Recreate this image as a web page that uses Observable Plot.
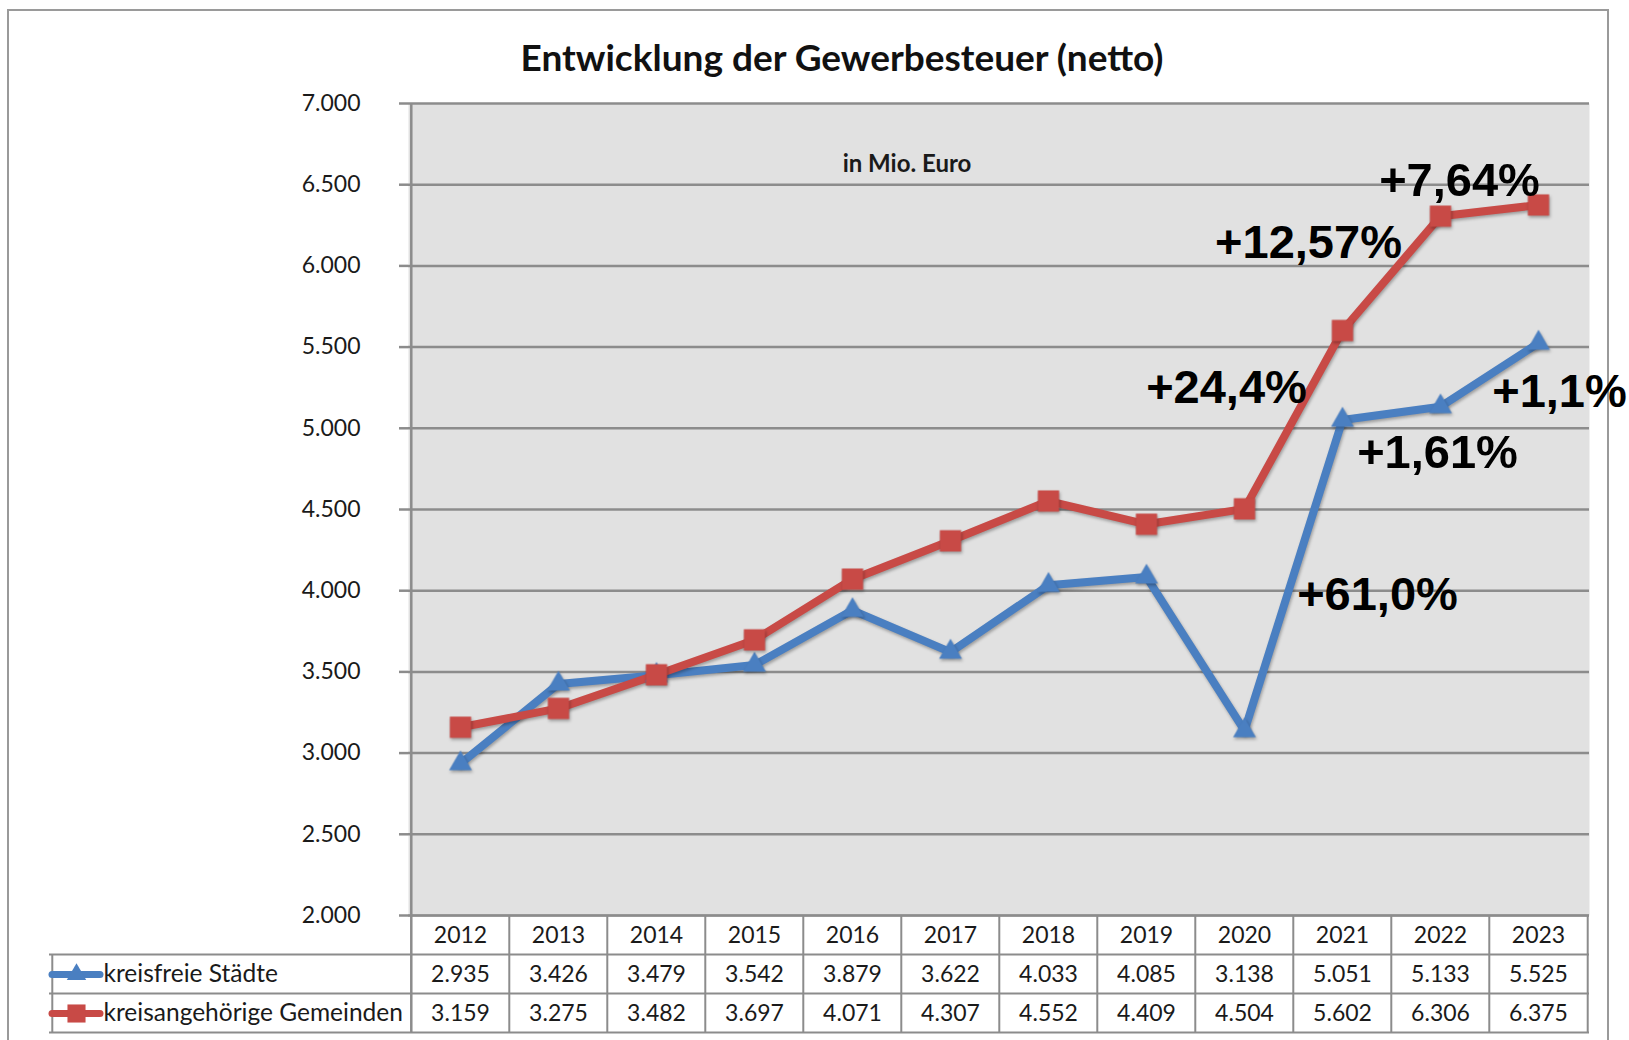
<!DOCTYPE html>
<html>
<head>
<meta charset="utf-8">
<script src="https://cdn.jsdelivr.net/npm/d3@7"></script>
<script src="https://cdn.jsdelivr.net/npm/@observablehq/plot@0.6"></script>
<style>
  html, body { margin: 0; padding: 0; background: #fff; }
  #wrap { position: relative; width: 1629px; height: 1040px; overflow: hidden; background: #fff; }
  #frame { position: absolute; left: 7px; top: 9px; width: 1598px; height: 1100px; border: 2px solid #9a9a9a; box-sizing: content-box; }
  #title { position: absolute; left: 0; width: 1684px; top: 34px; text-align: center; font: bold 37px Lato, sans-serif; color: #111; line-height: 46px; }
  #chart { position: absolute; left: 0; top: 0; }
</style>
</head>
<body>
<div id="wrap">
  <div id="frame"></div>
  <div id="title">Entwicklung der Gewerbesteuer (netto)</div>
  <div id="chart"></div>
</div>
<script>
// ---- data ----
const years = ["2012","2013","2014","2015","2016","2017","2018","2019","2020","2021","2022","2023"];
const kreisfreie = [2935, 3426, 3479, 3542, 3879, 3622, 4033, 4085, 3138, 5051, 5133, 5525];
const kreisangehoerige = [3159, 3275, 3482, 3697, 4071, 4307, 4552, 4409, 4504, 5602, 6306, 6375];
const seriesNames = ["kreisfreie Städte", "kreisangehörige Gemeinden"];
const yTicks = [2000, 2500, 3000, 3500, 4000, 4500, 5000, 5500, 6000, 6500, 7000];
const yTickLabels = ["2.000","2.500","3.000","3.500","4.000","4.500","5.000","5.500","6.000","6.500","7.000"];
const unitLabel = "in Mio. Euro";
const annoLabels = ["+7,64%", "+12,57%", "+24,4%", "+1,1%", "+1,61%", "+61,0%"];
const annoYears = ["2023", "2022", "2021", "2023", "2022", "2021"];
const annoSeries = [1, 1, 1, 0, 0, 0];

// ---- layout / style ----
const W = 1629, H = 1040;
const mTop = 103, mBottom = 125, mLeft = 408, mRight = 40;
const plotW = W - mLeft - mRight, plotH = H - mTop - mBottom;
const step = plotW / years.length;
const rowH = 39;
const blue = "#4a7fc1", red = "#c84a46";
const colors = [blue, red];
const grid = "#8c8c8c";
const annoOffsets = [[-79, -24], [-132, 27], [-116, 57], [21, 49], [-3, 46], [35, 175]];
const shadow = "drop-shadow(1.5px 2.5px 1.5px rgba(0,0,0,0.3))";
const swatchX1 = 52, swatchX2 = 100, swatchDotX = 76, legendTextX = 103, tableLeft = 49;

const fmt = d3.formatLocale({decimal: ",", thousands: ".", grouping: [3], currency: ["", " €"]}).format(",d");
const seriesValues = [kreisfreie, kreisangehoerige];
const rows = seriesValues.map((vals, s) => years.map((y, i) => ({year: y, value: vals[i], series: seriesNames[s]})));
const labelMap = new Map(yTicks.map((t, i) => [t, yTickLabels[i]]));

const annoMarks = annoLabels.map((lab, i) => {
  const s = annoSeries[i];
  const idx = years.indexOf(annoYears[i]);
  return Plot.text([{year: annoYears[i], value: seriesValues[s][idx], label: lab}], {
    x: "year", y: "value", text: "label",
    dx: annoOffsets[i][0], dy: annoOffsets[i][1],
    fontFamily: "Liberation Sans, Arial, sans-serif", fontWeight: "bold", fontSize: 47,
    fill: "#000", textAnchor: "middle", lineAnchor: "middle"
  });
});

const symbols = ["triangle", "square"];
const radii = [8.5, 12];

const chart = Plot.plot({
  width: W, height: H,
  marginTop: mTop, marginBottom: mBottom, marginLeft: mLeft, marginRight: mRight,
  style: {fontFamily: "Lato, sans-serif", fontSize: "23px", color: "#1a1a1a", background: "transparent", overflow: "visible"},
  x: {type: "band", domain: years, padding: 0, axis: null},
  y: {domain: [2000, 7000], axis: null},
  marks: [
    Plot.frame({fill: "#e1e1e1", stroke: null}),
    Plot.gridY(yTicks, {stroke: grid, strokeOpacity: 1, strokeWidth: 2.5}),
    Plot.axisY({ticks: yTicks, tickFormat: d => labelMap.get(d), tickSize: 9, tickPadding: 39, stroke: grid, strokeWidth: 2.5, fontSize: 23, fill: "#1a1a1a", label: null}),
    Plot.text([unitLabel], {frameAnchor: "top", lineAnchor: "middle", dx: -92, dy: 61, fontWeight: "bold", fontSize: 24, fill: "#1a1a1a"}),
    // series lines and markers
    ...rows.map((r, s) => Plot.line(r, {x: "year", y: "value", stroke: colors[s], strokeWidth: 8, strokeLinejoin: "round", imageFilter: shadow})),
    ...rows.map((r, s) => Plot.dot(r, {x: "year", y: "value", symbol: symbols[s], r: radii[s], fill: colors[s], stroke: null, imageFilter: shadow})),
    ...annoMarks,
    // data table borders
    Plot.ruleX([years[0]], {x: d => d, dx: -step / 2, stroke: grid, strokeWidth: 2.5, insetBottom: -3 * rowH}),
    Plot.ruleX(years.slice(1), {x: d => d, dx: -step / 2, stroke: grid, strokeWidth: 2, insetTop: plotH, insetBottom: -3 * rowH}),
    Plot.ruleX([years[years.length - 1]], {x: d => d, dx: step / 2, stroke: grid, strokeWidth: 2, insetTop: plotH, insetBottom: -3 * rowH}),
    Plot.ruleX([years[0]], {x: d => d, dx: -step / 2 - (mLeft - tableLeft), stroke: grid, strokeWidth: 2, insetTop: plotH + rowH, insetBottom: -3 * rowH}),
    Plot.ruleY([2000], {stroke: grid, strokeWidth: 2}),
    ...[1, 2, 3].map(k => Plot.ruleY([2000], {dy: k * rowH, insetLeft: -(mLeft - tableLeft), stroke: grid, strokeWidth: 2})),
    // header (years)
    Plot.text(years, {x: d => d, frameAnchor: "bottom", dy: 20, fontSize: 23, fill: "#1a1a1a", lineAnchor: "middle"}),
    // values
    ...rows.map((r, s) => Plot.text(r, {x: "year", text: d => fmt(d.value), frameAnchor: "bottom", dy: 20 + (s + 1) * rowH, fontSize: 23, fill: "#1a1a1a", lineAnchor: "middle"})),
    // legend swatches + labels
    ...[0, 1].map(s => Plot.ruleY([2000], {dy: 20 + (s + 1) * rowH, insetLeft: -(mLeft - swatchX1), insetRight: mLeft + plotW - swatchX2, stroke: colors[s], strokeWidth: 7, strokeLinecap: "round"})),
    ...[0, 1].map(s => Plot.dot([seriesNames[s]], {frameAnchor: "bottom-left", dx: swatchDotX - mLeft, dy: 20 + (s + 1) * rowH, symbol: symbols[s], r: radii[s] * 0.85, fill: colors[s], stroke: null})),
    ...[0, 1].map(s => Plot.text([seriesNames[s]], {frameAnchor: "bottom-left", dx: legendTextX - mLeft, dy: 20 + (s + 1) * rowH, textAnchor: "start", fontSize: 24.5, fill: "#1a1a1a", lineAnchor: "middle"}))
  ]
});
document.getElementById("chart").appendChild(chart);
</script>
</body>
</html>
